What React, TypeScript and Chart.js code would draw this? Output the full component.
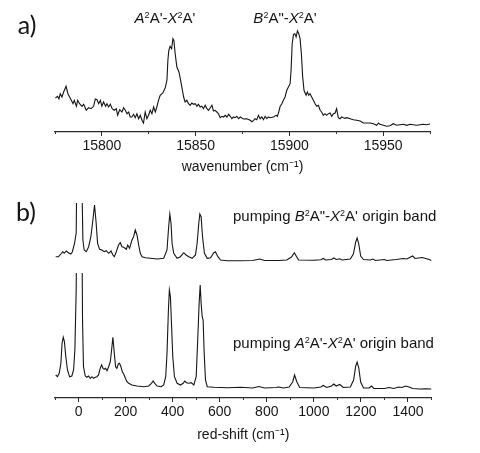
import React, { useEffect, useRef } from 'react';
import { Chart, registerables } from 'chart.js';

Chart.register(...registerables);

const FONT = '"Liberation Sans", Arial, sans-serif';
const INK = '#151515';
const AXIS = '#2a2a2a';

// ---------- panel a: excitation spectrum ----------
const aWavenumber = [
  15775.2, 15776.4, 15777.1, 15777.8, 15778.7, 15779.6, 15780.9, 15781.9, 15782.8, 15783.7,
  15784.6, 15785.3, 15786.4, 15787.1, 15788.1, 15789.4, 15790.3, 15791.7, 15792.9, 15794.2,
  15795.6, 15796.5, 15797.4, 15798.3, 15799.2, 15800.0, 15800.9, 15802.0, 15802.7, 15803.6,
  15804.5, 15805.5, 15806.6, 15807.7, 15808.4, 15809.5, 15810.7, 15811.6, 15812.5, 15813.4,
  15814.3, 15815.1, 15816.0, 15816.9, 15817.8, 15818.7, 15819.6, 15820.5, 15821.4, 15822.2,
  15823.1, 15824.0, 15824.9, 15825.8, 15826.7, 15827.6, 15828.5, 15829.3, 15830.2, 15831.1,
  15832.5, 15833.8, 15834.7, 15835.2, 15835.7, 15836.4, 15837.2, 15837.9, 15838.4, 15839.1,
  15840.0, 15841.1, 15842.0, 15842.8, 15843.6, 15844.4, 15845.3, 15846.2, 15847.1, 15848.0,
  15848.9, 15849.8, 15850.7, 15851.5, 15852.4, 15853.3, 15854.2, 15855.1, 15856.0, 15856.9,
  15857.8, 15858.7, 15859.5, 15860.4, 15861.3, 15862.2, 15863.1, 15864.0, 15864.9, 15865.8,
  15866.7, 15867.6, 15868.5, 15869.3, 15870.2, 15871.1, 15872.0, 15872.9, 15873.8, 15875.5,
  15877.3, 15879.1, 15880.0, 15880.9, 15881.7, 15882.6, 15883.5, 15884.4, 15885.3, 15886.2,
  15887.1, 15888.0, 15888.8, 15889.7, 15891.5, 15892.9, 15893.6, 15894.3, 15895.1, 15896.0,
  15896.8, 15897.7, 15898.6, 15899.5, 15900.4, 15900.9, 15901.5, 15902.2, 15902.9, 15903.6,
  15904.3, 15905.0, 15905.7, 15906.4, 15907.1, 15907.8, 15908.9, 15909.6, 15910.3, 15911.0,
  15911.9, 15912.8, 15913.7, 15914.6, 15915.5, 15916.4, 15917.2, 15918.1, 15919.0, 15919.9,
  15920.8, 15921.7, 15922.6, 15923.5, 15924.4, 15925.2, 15926.1, 15927.0, 15927.9, 15928.8,
  15929.7, 15930.6, 15932.4, 15934.1, 15935.9, 15937.7, 15939.5, 15941.2, 15943.0, 15944.8,
  15946.6, 15947.5, 15948.3, 15950.1, 15951.9, 15953.7, 15955.4, 15957.2, 15959.0, 15960.8,
  15962.6, 15964.3, 15966.1, 15967.9, 15969.7, 15971.4, 15973.2, 15975.0,
];
const aIntensity = [
  34, 35.7, 33, 38.3, 35, 40, 45.7, 38.3, 35, 31.7,
  28.3, 31.7, 25.7, 31.7, 28.3, 25.7, 27.7, 21.7, 24.3, 23.3,
  25.7, 33, 32.3, 28.3, 31.7, 25.7, 30, 25.7, 28.3, 25,
  27.7, 23.3, 21.7, 23.3, 16.7, 22.3, 20, 24.3, 21.7, 18.3,
  20, 15, 15, 17.7, 14.3, 18.3, 13.3, 16.7, 11.7, 9,
  20, 13.3, 16.7, 21.7, 18.3, 25, 20, 25, 31.7, 36.7,
  39, 44.3, 51.7, 71.7, 81.7, 85.7, 83.3, 93.3, 91.7, 78.3,
  65, 60, 51.7, 43.3, 35, 30, 31.7, 28.3, 26.7, 29,
  27.7, 28.3, 25.7, 27.7, 25, 25.7, 23.3, 26.7, 23.3, 21.7,
  24.3, 26.7, 21, 21.7, 20, 18.3, 14.3, 15.7, 15, 16.7,
  15, 17.7, 15.7, 13.3, 15, 14.3, 15.7, 13.3, 15, 13,
  13.3, 11.7, 10.3, 11.7, 13.3, 12.3, 16.7, 13.3, 15, 12.3,
  15.7, 13.3, 15, 14.3, 15, 16.7, 15.7, 20, 25.7, 28.3,
  31.7, 35, 41.7, 45, 48.3, 61.7, 88.3, 97.7, 98.3, 95,
  101, 98.3, 93.3, 78.3, 55, 41.7, 36.7, 40, 36.7, 38.3,
  35, 31.7, 28.3, 25.7, 26.7, 21.7, 20, 16.7, 18.3, 16.7,
  18.3, 19, 15.7, 18.3, 19, 23.3, 14.3, 13.3, 15, 14.3,
  13.7, 14.3, 13.3, 12.3, 11.7, 11, 9, 9, 9, 8.3,
  6.7, 9, 7.7, 6.7, 5.7, 6.3, 8.3, 6.7, 7.3, 7.7,
  6.7, 7.7, 7.3, 6.7, 7.3, 7.7, 7.3, 8,
];
const aMajorTicks = [15800, 15850, 15900, 15950];
const aMinorTicks = [15775, 15800, 15825, 15850, 15875, 15900, 15925, 15950, 15975];

// ---------- panel b: dispersed fluorescence ----------
const bUpperShift = [
  -97, -85, -75, -67, -61, -52, -43, -33, -26, -17,
  -10, -6, 3, 13, 18.5, 24, 33, 43, 52.5, 61,
  68, 75, 81, 89.5, 99, 109, 118, 128, 138, 146,
  152, 160.5, 170, 177.5, 184.5, 192, 203, 209, 217, 227,
  234, 241, 248.5, 255.5, 262.5, 270, 284, 305, 334, 362,
  376, 383, 388, 393, 397.5, 404.5, 419, 433, 447, 457,
  468.5, 483, 497, 504, 511, 515.5, 521, 527, 535, 547,
  561, 575, 582, 592, 603.5, 632, 689, 740, 770, 790,
  850, 885, 905, 917, 925, 935, 1000, 1030, 1040, 1050,
  1075, 1085, 1095, 1110, 1120, 1155, 1168, 1178, 1184, 1191,
  1199, 1211, 1240, 1250, 1262, 1300, 1310, 1350, 1380, 1395,
  1420, 1430, 1445, 1460, 1475, 1490, 1500,
];
const bUpperIntensity = [
  5.3, 5.3, 8, 10.3, 8.7, 11, 9.3, 8, 10.3, 18.7,
  28.7, 120, 400, 100, 22, 12, 10.3, 15.3, 25.3, 42,
  57, 38.7, 18.7, 12.7, 12, 10.3, 11.3, 8.7, 11, 7,
  5.3, 10.3, 17, 19.3, 15.3, 14.7, 12.7, 17, 13.7, 22,
  25.3, 32, 27, 17, 8.7, 5.3, 4.3, 3.7, 3, 3.7,
  12, 35.3, 48, 38.7, 18.7, 8.7, 3.7, 5.3, 9.3, 7,
  5.3, 3.7, 7, 18.7, 38.7, 48, 45, 25.3, 8.7, 3.7,
  4.3, 9.3, 10.3, 5.3, 2, 1.3, 1.3, 1.5, 3, 1.5,
  1.5, 2, 5, 9.3, 6, 2, 1.8, 2.2, 3.5, 2,
  2.5, 4, 2.5, 3.2, 2, 3, 8, 20, 24, 18,
  6, 2.5, 2, 3, 1.5, 2.5, 1.5, 2.5, 3.5, 3,
  6, 3.5, 4, 4.5, 3.5, 2.5, 1.5,
];
const bLowerShift = [
  -97, -89.5, -82, -75, -70, -65, -60, -54, -47, -38,
  -28.5, -21, -15.5, -10, -4, 4, 12, 17, 21, 28.5,
  35.5, 42.5, 50, 57, 64, 71, 78, 85, 92, 98,
  104, 109, 115, 121, 128, 135, 140.5, 146, 152, 157.5,
  163, 169, 174.5, 180, 186, 192, 199, 206, 213, 227,
  248.5, 277, 298, 310, 317, 324, 334, 351, 362, 370.5,
  376, 382, 386, 390.5, 395, 400.5, 407.5, 419, 433, 444.5,
  451.5, 458.5, 468.5, 478.5, 490, 500, 507, 512.5, 517, 521,
  525.5, 529.5, 534, 539.5, 547, 575, 632, 689, 740, 767,
  790, 840, 850, 870, 895, 910, 918, 928, 940, 1000,
  1030, 1040, 1055, 1075, 1085, 1095, 1110, 1125, 1155, 1169,
  1178, 1184, 1191, 1199, 1211, 1235, 1245, 1255, 1300, 1320,
  1340, 1360, 1375, 1390, 1405, 1420, 1450, 1475, 1500,
];
const bLowerIntensity = [
  17, 15.3, 18.7, 28.7, 48.7, 54.7, 50.3, 35.3, 22, 15.3,
  16, 22, 42, 102, 250, 500, 250, 72, 25.3, 16,
  14.7, 16, 13.7, 15.3, 13.7, 14.7, 15.3, 17, 23.7, 27,
  23.7, 22.7, 23.7, 21.3, 25.3, 30.3, 42, 54.7, 38.7, 25.3,
  23.7, 28, 28.7, 25.3, 20.3, 18, 13.7, 10.3, 8.7, 7,
  6, 5.3, 6, 8.7, 11, 8.7, 6, 5.3, 7, 15.3,
  38.7, 82, 102, 95.3, 68.7, 35.3, 15.3, 8.7, 7, 8.7,
  11, 9.3, 8.7, 9.3, 7, 15.3, 55.3, 88.7, 107, 88.7,
  75.3, 72, 38.7, 12, 5.3, 4.7, 4.3, 4.7, 4, 5.5,
  4, 4.5, 5, 4, 5, 10, 17, 10, 4.5, 4,
  5, 6.5, 4.5, 6, 8, 6, 7.5, 4.5, 5, 12,
  26, 30, 24, 10, 4, 4, 6, 3.5, 3.5, 4.5,
  3.5, 5, 4.5, 6, 5, 3.5, 3, 3.2, 3,
];
const bUpperOffset = 136;
const bLowerOffset = 6;
const bMajorTicks = [0, 200, 400, 600, 800, 1000, 1200, 1400];
const bMinorTicks = [-100, 0, 100, 200, 300, 400, 500, 600, 700, 800, 900, 1000, 1100, 1200, 1300, 1400, 1500];

function points(xs: number[], ys: number[], offset = 0) {
  return xs.map((x, i) => ({ x, y: ys[i] + offset }));
}

function xScales(
  min: number,
  max: number,
  major: number[],
  minor: number[],
  title: string,
  axisHeight: number,
  titlePad: number,
  labelPad: number,
) {
  return {
    xMinor: {
      type: 'linear',
      position: 'bottom',
      weight: 0,
      min,
      max,
      afterBuildTicks: (s: any) => {
        s.ticks = minor.map((v) => ({ value: v }));
      },
      afterFit: (s: any) => {
        s.height = 0;
      },
      ticks: { display: false },
      grid: { display: true, drawOnChartArea: false, drawTicks: true, tickLength: 2, color: AXIS, lineWidth: 1 },
      border: { display: true, color: AXIS, width: 1.2 },
    },
    x: {
      type: 'linear',
      position: 'bottom',
      weight: 1,
      min,
      max,
      afterBuildTicks: (s: any) => {
        s.ticks = major.map((v) => ({ value: v }));
      },
      afterFit: (s: any) => {
        s.height = axisHeight;
      },
      ticks: {
        display: true,
        autoSkip: false,
        maxRotation: 0,
        padding: labelPad,
        color: INK,
        font: { family: FONT, size: 14 },
        callback: (v: any) => String(v),
      },
      grid: { display: true, drawOnChartArea: false, drawTicks: true, tickLength: 4, color: AXIS, lineWidth: 1 },
      border: { display: false },
      title: {
        display: true,
        text: title,
        color: INK,
        font: { family: FONT, size: 14 },
        padding: { top: 0, bottom: titlePad },
      },
    },
  };
}

const lineStyle = {
  borderColor: INK,
  borderWidth: 1.1,
  pointRadius: 0,
  tension: 0,
};

function panelAConfig(): any {
  return {
    type: 'line',
    data: {
      datasets: [{ data: points(aWavenumber, aIntensity), ...lineStyle, clip: 0 }],
    },
    options: {
      animation: false,
      responsive: false,
      devicePixelRatio: 1,
      layout: { padding: { left: 55, right: 50, top: 22, bottom: 0 } },
      plugins: { legend: { display: false }, tooltip: { enabled: false } },
      events: [],
      scales: {
        ...xScales(15775, 15975, aMajorTicks, aMinorTicks, 'wavenumber (cm\u207B\u00B9)', 58, 14.5, 1.5),
        y: { display: false, min: 0, max: 110 },
      },
    },
  };
}

function panelBConfig(): any {
  return {
    type: 'line',
    data: {
      datasets: [
        { data: points(bUpperShift, bUpperIntensity, bUpperOffset), ...lineStyle, clip: 0 },
        {
          data: points(bLowerShift, bLowerIntensity, bLowerOffset),
          ...lineStyle,
          clip: { left: 0, top: -70, right: 0, bottom: 0 },
        },
      ],
    },
    options: {
      animation: false,
      responsive: false,
      devicePixelRatio: 1,
      layout: { padding: { left: 55, right: 48.5, top: 13, bottom: 0 } },
      plugins: { legend: { display: false }, tooltip: { enabled: false } },
      events: [],
      scales: {
        ...xScales(-100, 1500, bMajorTicks, bMinorTicks, 'red-shift (cm\u207B\u00B9)', 55, 9.5, 2),
        y: { display: false, min: 0, max: 195 },
      },
    },
  };
}

function ChartCanvas({ top, height, build }: { top: number; height: number; build: () => any }) {
  const ref = useRef<HTMLCanvasElement>(null);
  useEffect(() => {
    const chart = new Chart(ref.current as HTMLCanvasElement, build());
    return () => chart.destroy();
  }, []);
  return (
    <canvas
      ref={ref}
      width={480}
      height={height}
      style={{ position: 'absolute', left: 0, top, width: 480, height, display: 'block' }}
    />
  );
}

const supStyle: React.CSSProperties = { fontSize: '0.6em', lineHeight: 0, verticalAlign: '0.55em' };

function Label({
  x,
  y,
  align = 'center',
  size = 15,
  family = FONT,
  children,
}: {
  x: number;
  y: number;
  align?: 'center' | 'left';
  size?: number;
  family?: string;
  children: React.ReactNode;
}) {
  return (
    <div
      style={{
        position: 'absolute',
        left: x,
        top: y,
        transform: align === 'center' ? 'translate(-50%, -50%)' : 'translate(0, -50%)',
        font: `${size}px ${family}`,
        color: INK,
        whiteSpace: 'nowrap',
        lineHeight: 1,
      }}
    >
      {children}
    </div>
  );
}

const PANEL_FONT = 'Lato, "Noto Sans", sans-serif';

export default function App() {
  return (
    <div style={{ position: 'absolute', left: 0, top: 0, width: 480, height: 453, background: '#fff', overflow: 'hidden' }}>
      <ChartCanvas top={0} height={190} build={panelAConfig} />
      <ChartCanvas top={190} height={263} build={panelBConfig} />
      <Label x={27} y={24} size={25} family={PANEL_FONT}>a)</Label>
      <Label x={26} y={211} size={25} family={PANEL_FONT}>b)</Label>
      <Label x={165} y={17}>
        <i>A</i><sup style={supStyle}>2</sup>A'-<i>X</i><sup style={supStyle}>2</sup>A'
      </Label>
      <Label x={285} y={17}>
        <i>B</i><sup style={supStyle}>2</sup>A"-<i>X</i><sup style={supStyle}>2</sup>A'
      </Label>
      <Label x={233} y={215} align="left">
        pumping <i>B</i><sup style={supStyle}>2</sup>A"-<i>X</i><sup style={supStyle}>2</sup>A' origin band
      </Label>
      <Label x={233} y={342} align="left">
        pumping <i>A</i><sup style={supStyle}>2</sup>A'-<i>X</i><sup style={supStyle}>2</sup>A' origin band
      </Label>
    </div>
  );
}
